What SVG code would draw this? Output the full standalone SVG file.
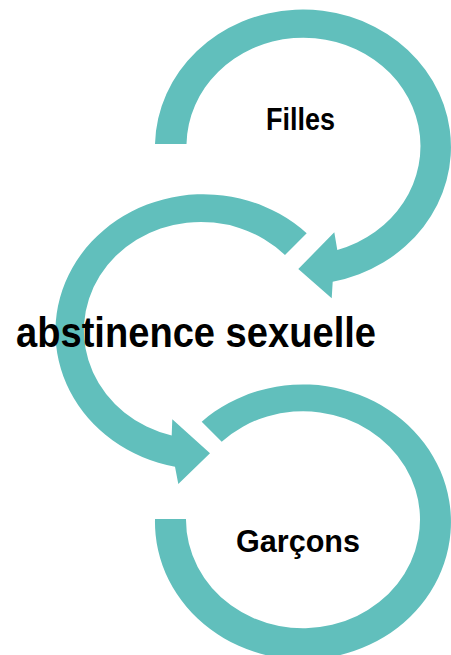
<svg xmlns="http://www.w3.org/2000/svg" width="451" height="655" viewBox="0 0 451 655">
  <style>
    .arrow { fill: #61bfbc; stroke: none; }
    .label { font-family: "Liberation Sans", Arial, sans-serif; font-weight: bold; fill: #000; }
  </style>
  <rect width="451" height="655" fill="#ffffff"/>
  <g id="node-filles">
    <path class="arrow" d="M 155,144 A 148 137.5 0 1 1 332.7,281.7 L 331.7,298.3 L 298.3,269 L 334.3,232.3 L 337.3,250 A 117 108.5 0 1 0 186.5,144 Z"/>
    <text class="label" x="266" y="129.5" font-size="31" textLength="69" lengthAdjust="spacingAndGlyphs">Filles</text>
  </g>
  <g id="node-abstinence">
    <path class="arrow" d="M 306.7,233.3 A 148 137.5 0 1 0 175,466.7 L 178.3,484 L 210,453.3 L 172.3,419.3 L 171.7,435.5 A 117 108.5 0 1 1 285,255 Z"/>
    <text class="label" x="16" y="346.7" font-size="43" textLength="360" lengthAdjust="spacingAndGlyphs">abstinence sexuelle</text>
  </g>
  <g id="node-garcons">
    <path class="arrow" d="M 201.7,421.7 A 148 137.5 0 1 1 155,519 L 186,519 A 117 108.5 0 1 0 221.7,441.7 Z"/>
    <text class="label" x="236" y="551.7" font-size="32" textLength="124" lengthAdjust="spacingAndGlyphs">Garçons</text>
  </g>
  <g id="connectors"/>
</svg>
